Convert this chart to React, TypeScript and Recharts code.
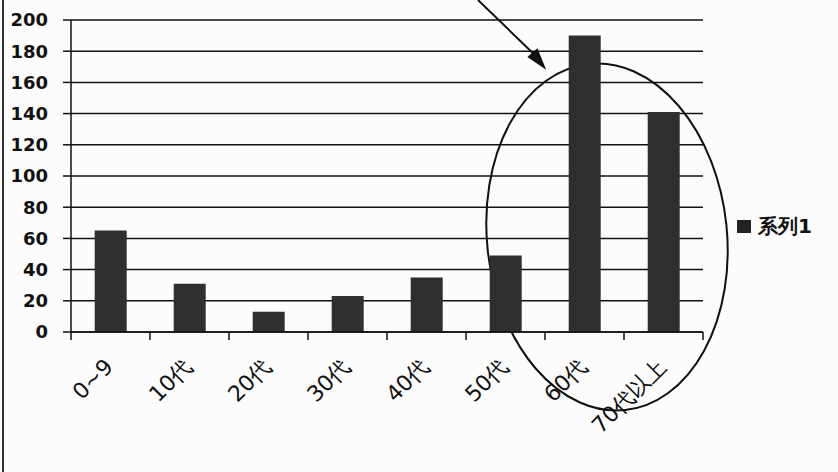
import { BarChart, Bar, XAxis, YAxis, CartesianGrid, Legend, Customized } from 'recharts';

const categories = ['0~9', '10代', '20代', '30代', '40代', '50代', '60代', '70代以上'];
const series1 = [65, 31, 13, 23, 35, 49, 190, 141];
const yTicks = [0, 20, 40, 60, 80, 100, 120, 140, 160, 180, 200];

const data = categories.map((name, i) => ({ name, value: series1[i] }));

const W = 838;
const H = 472;
const BAND = (703 - 71) / categories.length;

function AgeTick(props: any) {
  const { x, y, payload, index } = props;
  return (
    <g>
      <line x1={x - BAND / 2} y1={y - 8} x2={x - BAND / 2} y2={y} stroke="#111" strokeWidth={1.5} />
      {index === categories.length - 1 && (
        <line x1={x + BAND / 2} y1={y - 8} x2={x + BAND / 2} y2={y} stroke="#111" strokeWidth={1.5} />
      )}
      <text
        x={x + 4}
        y={y + 28}
        transform={`rotate(-45 ${x + 4} ${y + 28})`}
        textAnchor="end"
        fontSize={22}
        fontFamily="DejaVu Sans, Verdana, sans-serif"
        fill="#111"
      >
        {payload.value}
      </text>
    </g>
  );
}

function LegendBox() {
  return (
    <div style={{ display: 'flex', alignItems: 'center', fontFamily: 'DejaVu Sans, sans-serif', fontWeight: 700, fontSize: 20, color: '#111' }}>
      <span style={{ display: 'inline-block', width: 14, height: 13, background: '#222', marginRight: 7 }} />
      系列1
    </div>
  );
}

// pen marks drawn on the printed chart
function Marks() {
  return (
    <g fill="none" stroke="#111" strokeWidth={2}>
      <ellipse cx={607} cy={237} rx={120} ry={174} transform="rotate(-6 607 237)" />
      <line x1={478} y1={0} x2={540} y2={60} />
      <path d="M529 57 L544 67 L537 50 Z" fill="#111" />
      <line x1={3} y1={0} x2={3} y2={H} stroke="#333" />
    </g>
  );
}

export default function App() {
  return (
    <div style={{ position: 'absolute', left: 0, top: 0, width: W, height: H, background: '#fcfcfc' }}>
      <BarChart width={W} height={H} data={data} margin={{ top: 20, right: 35, bottom: 0, left: 0 }} barCategoryGap="30%">
        <CartesianGrid vertical={false} stroke="#111" strokeWidth={1.5} />
        <XAxis
          dataKey="name"
          height={140}
          tickLine={false}
          axisLine={{ stroke: '#111', strokeWidth: 1.5 }}
          tick={<AgeTick />}
          interval={0}
        />
        <YAxis
          width={71}
          domain={[0, 200]}
          ticks={yTicks}
          interval={0}
          tickSize={8}
          tickMargin={15}
          tickLine={{ stroke: '#111', strokeWidth: 1.5 }}
          axisLine={{ stroke: '#111', strokeWidth: 1.5 }}
          tick={{ fill: '#111', fontSize: 18, fontWeight: 700, fontFamily: 'DejaVu Sans, sans-serif' }}
        />
        <Legend
          layout="vertical"
          align="right"
          verticalAlign="middle"
          content={<LegendBox />}
          wrapperStyle={{ left: 737, top: 213, width: 100 }}
        />
        <Bar dataKey="value" name="系列1" fill="#2f2f2f" isAnimationActive={false} />
        <Customized component={<Marks />} />
      </BarChart>
    </div>
  );
}
